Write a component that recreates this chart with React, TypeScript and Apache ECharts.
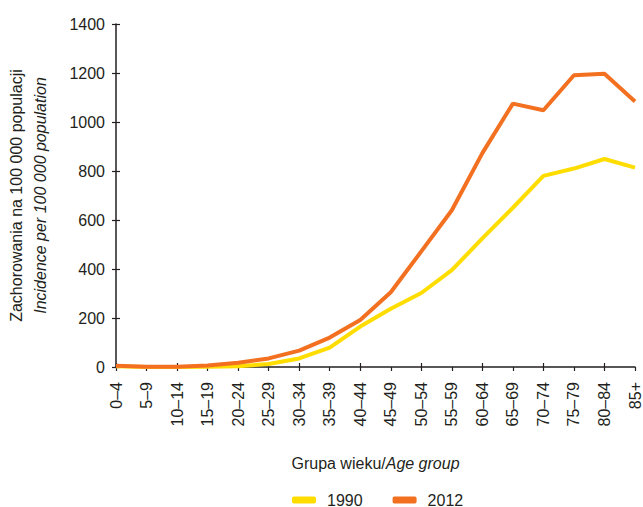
import React, { useEffect, useRef } from "react";
import * as echarts from "echarts";

const ageGroups = ["0–4", "5–9", "10–14", "15–19", "20–24", "25–29", "30–34", "35–39", "40–44", "45–49", "50–54", "55–59", "60–64", "65–69", "70–74", "75–79", "80–84", "85+"];
const values1990 = [3, 0, 0, 1, 3, 12, 35, 79, 165, 238, 302, 395, 525, 650, 780, 810, 849, 814];
const values2012 = [5, 1, 1, 6, 17, 35, 67, 120, 192, 305, 472, 640, 873, 1075, 1048, 1191, 1197, 1084];
const seriesNames = ["1990", "2012"];
const yMin = 0;
const yMax = 1400;
const yInterval = 200;

const FONT = '"Liberation Sans", Arial, sans-serif';
const TEXT = "#231f20";

export default function App() {
  const ref = useRef<HTMLDivElement>(null);
  useEffect(() => {
    if (!ref.current) return;
    const chart = echarts.init(ref.current, null, { renderer: "svg" });
    chart.setOption({
      animation: false,
      backgroundColor: "#ffffff",
      grid: { left: 116, top: 24, right: 5, bottom: 140 },
      legend: {
        left: 287,
        top: 487,
        itemWidth: 24,
        itemHeight: 7,
        itemGap: 30,
        icon: "roundRect",
        data: seriesNames,
        textStyle: { fontFamily: FONT, fontSize: 16, lineHeight: 16, color: TEXT, padding: [0, 0, 0, 6] },
      },
      xAxis: [
        {
          type: "category",
          data: ageGroups,
          boundaryGap: false,
          name: "{a|Grupa wieku/}{b|Age group}",
          nameLocation: "middle",
          nameGap: 88,
          nameTextStyle: {
            rich: {
              a: { fontFamily: FONT, fontSize: 16, color: TEXT },
              b: { fontFamily: FONT, fontSize: 16, color: TEXT, fontStyle: "italic" },
            },
          },
          axisLine: { lineStyle: { color: "#231f20", width: 1.5 } },
          axisTick: { show: true, alignWithLabel: true, length: 4, lineStyle: { color: "#231f20", width: 1.2 } },
          axisLabel: { rotate: 90, margin: 15, fontFamily: FONT, fontSize: 16, color: TEXT, interval: 0 },
          splitLine: { show: false },
        },
        {
          type: "category",
          data: ageGroups,
          boundaryGap: false,
          position: "bottom",
          axisLine: { show: false },
          axisTick: { show: true, inside: true, length: 4, lineStyle: { color: "#231f20", width: 1.2 } },
          axisLabel: { show: false },
          splitLine: { show: false },
        },
      ],
      yAxis: [
        {
          type: "value",
          min: yMin,
          max: yMax,
          interval: yInterval,
          name: "{a|Zachorowania na 100 000 populacji}\n{b|Incidence per 100 000 population}",
          nameLocation: "middle",
          nameRotate: 90,
          nameGap: 64,
          nameTextStyle: {
            rich: {
              a: { fontFamily: FONT, fontSize: 16, color: TEXT, lineHeight: 24 },
              b: { fontFamily: FONT, fontSize: 16, color: TEXT, fontStyle: "italic", lineHeight: 24 },
            },
          },
          axisLine: { show: true, lineStyle: { color: "#231f20", width: 1.5 } },
          axisTick: { show: true, length: 4, lineStyle: { color: "#231f20", width: 1.2 } },
          axisLabel: { margin: 11, fontFamily: FONT, fontSize: 16, color: TEXT, formatter: (v: number) => String(v) },
          splitLine: { show: false },
        },
        {
          type: "value",
          min: yMin,
          max: yMax,
          interval: yInterval,
          position: "left",
          axisLine: { show: false },
          axisTick: { show: true, inside: true, length: 4, lineStyle: { color: "#231f20", width: 1.2 } },
          axisLabel: { show: false },
          splitLine: { show: false },
        },
      ],
      series: [
        {
          name: seriesNames[0],
          type: "line",
          data: values1990,
          xAxisIndex: 0,
          yAxisIndex: 0,
          showSymbol: false,
          symbol: "none",
          color: "#ffdd00",
          lineStyle: { width: 4, color: "#ffdd00" },
          itemStyle: { color: "#ffdd00" },
        },
        {
          name: seriesNames[1],
          type: "line",
          data: values2012,
          xAxisIndex: 0,
          yAxisIndex: 0,
          showSymbol: false,
          symbol: "none",
          color: "#f37021",
          lineStyle: { width: 4, color: "#f37021" },
          itemStyle: { color: "#f37021" },
        },
      ],
    });
    return () => chart.dispose();
  }, []);
  return <div ref={ref} style={{ width: 643, height: 507, position: "absolute", left: 0, top: 0 }} />;
}
